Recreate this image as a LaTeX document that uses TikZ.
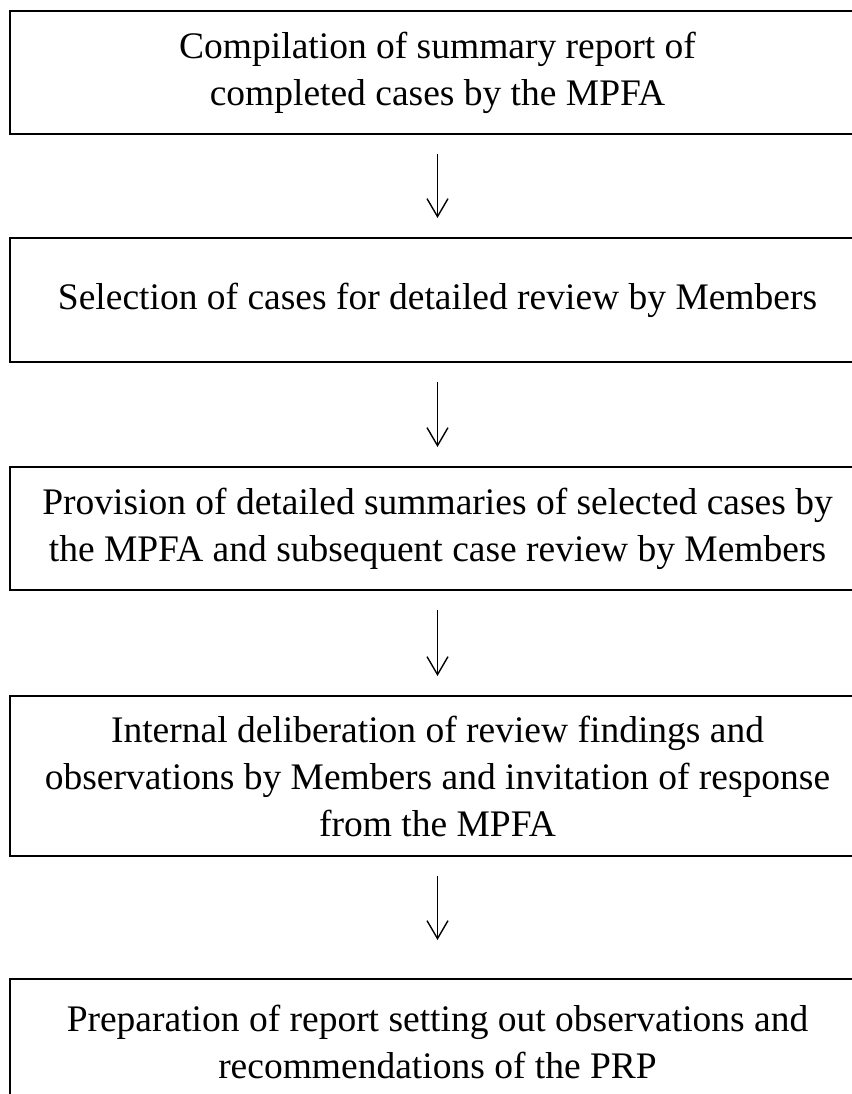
\documentclass[tikz,border=0pt]{standalone}
\usepackage{fontspec}
\setmainfont{Liberation Serif}
\usetikzlibrary{arrows.meta, positioning}
\tikzset{
  stagebox/.style={rectangle, draw=black, line width=1.8pt, outer sep=0pt,
                   minimum width=855pt, minimum height=#1, align=center,
                   inner sep=0pt, font=\fontsize{37.5}{47}\selectfont},
  stagebox/.default=123pt,
  arr/.style={-{Straight Barb[length=18pt, width=21pt]}, line width=1.4pt,
              shorten <=20pt, shorten >=#1},
  arr/.default=20pt,
}

\begin{document}
\begin{tikzpicture}
  \useasboundingbox (0,0) rectangle (851pt,-1094pt);
  % review stages
  \node[stagebox] (compile) at (437.5pt,-72.5pt)
    {Compilation of summary report of\\completed cases by the MPFA};
  \node[stagebox=124pt, below=104pt of compile] (select)
    {Selection of cases for detailed review by Members};
  \node[stagebox, below=105pt of select] (provide)
    {Provision of detailed summaries of selected cases by\\the MPFA and subsequent case review by Members};
  \node[stagebox=160pt, below=106pt of provide] (deliberate)
    {Internal deliberation of review findings and\\observations by Members and invitation of response\\from the MPFA};
  \node[stagebox=126pt, below=123pt of deliberate] (prepare)
    {Preparation of report setting out observations and\\recommendations of the PRP};

  \draw[arr] (compile) -- (select);
  \draw[arr] (select) -- (provide);
  \draw[arr] (provide) -- (deliberate);
  \draw[arr=39pt] (deliberate) -- (prepare);
\end{tikzpicture}
\end{document}
